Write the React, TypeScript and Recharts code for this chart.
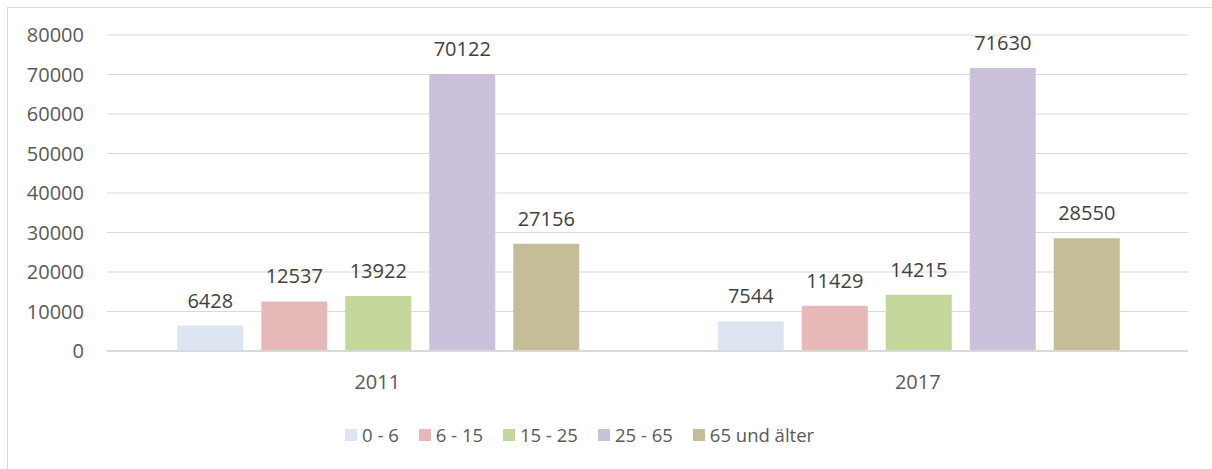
import { BarChart, Bar, XAxis, YAxis, CartesianGrid, LabelList } from "recharts"

// Jahre (Kategorien)
const years = ["2011", "2017"]

// Altersgruppen
const age0to6 = [6428, 7544]
const age6to15 = [12537, 11429]
const age15to25 = [13922, 14215]
const age25to65 = [70122, 71630]
const age65plus = [27156, 28550]

const yTicks = [0, 10000, 20000, 30000, 40000, 50000, 60000, 70000, 80000]

const seriesDefs = [
  { key: "a", name: "0 - 6", values: age0to6, color: "#dce6f2" },
  { key: "b", name: "6 - 15", values: age6to15, color: "#e6b9b8" },
  { key: "c", name: "15 - 25", values: age15to25, color: "#c3d69b" },
  { key: "d", name: "25 - 65", values: age25to65, color: "#ccc1da" },
  { key: "e", name: "65 und älter", values: age65plus, color: "#c4bd97" },
]

const data = years.map((year, i) => {
  const row: Record<string, string | number> = { year }
  seriesDefs.forEach((s) => {
    row[s.key] = s.values[i]
  })
  return row
})

const FONT = "'Open Sans', sans-serif"

// legend drawn as plain html so it doesn't eat plot height
const ChartLegend = () => (
  <div
    style={{
      position: "absolute",
      left: 345,
      top: 423,
      display: "flex",
      alignItems: "center",
      fontFamily: FONT,
      fontSize: 18.5,
      color: "#595959",
    }}
  >
    {seriesDefs.map((s) => (
      <div key={s.key} style={{ display: "flex", alignItems: "center", marginRight: 20, height: 24 }}>
        <span style={{ width: 12, height: 12, background: s.color, display: "inline-block", marginRight: 5 }} />
        <span style={{ lineHeight: "24px", whiteSpace: "nowrap" }}>{s.name}</span>
      </div>
    ))}
  </div>
)

export default function App() {
  return (
    <div
      style={{
        position: "absolute",
        left: 0,
        top: 0,
        width: 1212,
        height: 469,
        background: "#fff",
        overflow: "hidden",
      }}
    >
      <div
        style={{
          position: "absolute",
          left: 7,
          top: 7,
          width: 1220,
          height: 480,
          border: "1px solid #d9d9d9",
          boxSizing: "border-box",
        }}
      />
      <BarChart
        width={1212}
        height={469}
        data={data}
        margin={{ top: 35, right: 24, bottom: 88, left: 0 }}
        barCategoryGap="13%"
        barGap={18}
        style={{ position: "absolute", left: 0, top: 0 }}
      >
        <CartesianGrid vertical={false} stroke="#d9d9d9" strokeWidth={1.2} />
        <XAxis
          dataKey="year"
          height={30}
          axisLine={{ stroke: "#d9d9d9", strokeWidth: 2 }}
          tickLine={false}
          tickSize={0}
          tickMargin={24}
          tick={{ fill: "#595959", fontSize: 20, fontFamily: FONT }}
        />
        <YAxis
          width={107}
          domain={[0, 80000]}
          ticks={yTicks}
          axisLine={false}
          tickLine={false}
          tickSize={0}
          tickMargin={23}
          interval={0}
          tick={{ fill: "#595959", fontSize: 20, fontFamily: FONT }}
        />
        {seriesDefs.map((s) => (
          <Bar key={s.key} dataKey={s.key} name={s.name} fill={s.color} isAnimationActive={false}>
            <LabelList
              dataKey={s.key}
              position="top"
              offset={18}
              style={{ fill: "#404040", fontSize: 20, fontFamily: FONT }}
            />
          </Bar>
        ))}
      </BarChart>
      <ChartLegend />
    </div>
  )
}
